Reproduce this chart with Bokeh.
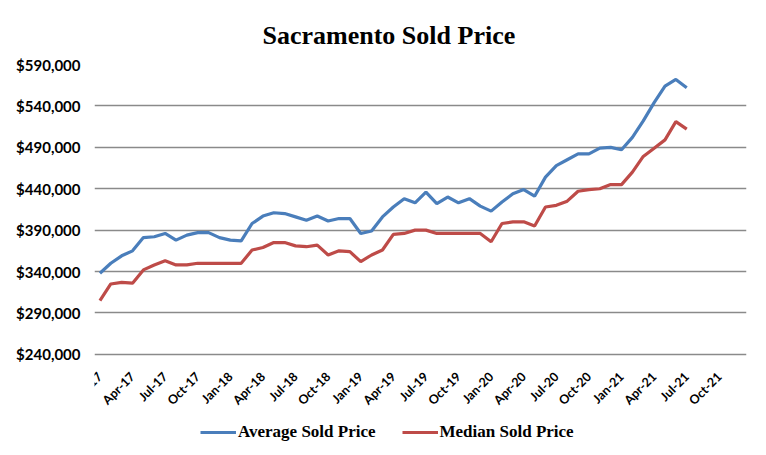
from bokeh.plotting import figure
from bokeh.models import ColumnDataSource, FixedTicker, Legend, LegendItem, Range1d, NumeralTickFormatter
from bokeh.core.properties import value
from bokeh.embed import file_html
from bokeh.resources import INLINE
import math

months = ["Jan", "Feb", "Mar", "Apr", "May", "Jun", "Jul", "Aug", "Sep", "Oct", "Nov", "Dec"]
categories = [f"{m}-{y}" for y in range(17, 22) for m in months]  # Jan-17 .. Dec-21

average_price = [338000, 350000, 359000, 365000, 381000, 382000, 386000, 378000, 384000, 387000,
                 387000, 381000, 378000, 377000, 398000, 407000, 411000, 410000, 406000, 402000,
                 407000, 401000, 404000, 404000, 386000, 389000, 406000, 418000, 428000, 423000,
                 436000, 422000, 430000, 423000, 428000, 419000, 413000, 424000, 434000, 439000,
                 431000, 454000, 468000, 475000, 482000, 482000, 489000, 490000, 487000, 502000,
                 522000, 544000, 564000, 572000, 562000]

median_price = [305000, 325000, 327000, 326000, 342000, 348000, 353000, 348000, 348000, 350000,
                350000, 350000, 350000, 350000, 366000, 369000, 375000, 375000, 371000, 370000,
                372000, 360000, 365000, 364000, 352000, 360000, 366000, 385000, 386000, 390000,
                390000, 386000, 386000, 386000, 386000, 386000, 376000, 398000, 400000, 400000,
                395000, 418000, 420000, 425000, 437000, 439000, 440000, 445000, 445000, 460000,
                479000, 489000, 499000, 521000, 512000]

tick_months = ["Jan", "Apr", "Jul", "Oct"]
y_ticks = [240000, 290000, 340000, 390000, 440000, 490000, 540000, 590000]

idx = list(range(len(average_price)))
src = ColumnDataSource(dict(x=idx, avg=average_price, med=median_price,
                            label=categories[:len(average_price)]))

tick_positions = [i for i, c in enumerate(categories) if c.split("-")[0] in tick_months]
tick_labels = [categories[i] for i in tick_positions]
tick_src = ColumnDataSource(dict(x=tick_positions, y=[y_ticks[0]] * len(tick_positions),
                                 text=tick_labels))

# frame extends below the lowest gridline so that the category labels and legend sit inside it
p = figure(frame_width=652, frame_height=381, output_backend="svg", toolbar_location=None,
           x_range=Range1d(-0.5, len(categories) - 0.5),
           y_range=Range1d(130000, 590000),
           x_axis_location=None,
           min_border_left=94, min_border_right=20, min_border_top=64, min_border_bottom=10)

p.title.text = "Sacramento Sold Price"
p.title.text_font = "Liberation Serif"
p.title.text_font_style = "bold"
p.title.text_font_size = "26px"
p.title.align = "left"
p.title.offset = 168
p.title.text_color = "#000000"
p.title.standoff = 30

p.outline_line_color = None
p.background_fill_color = "white"
p.border_fill_color = "white"
p.xgrid.visible = False

# y axis
p.yaxis.ticker = FixedTicker(ticks=y_ticks)
p.yaxis.formatter = NumeralTickFormatter(format="$0,0")
p.yaxis.major_label_text_font = "Lato"
p.yaxis.major_label_text_font_style = "bold"
p.yaxis.major_label_text_font_size = "15px"
p.yaxis.major_label_text_color = "#000000"
p.yaxis.axis_line_color = None
p.yaxis.major_tick_line_color = None
p.yaxis.minor_tick_line_color = None
p.yaxis.major_tick_out = 0
p.yaxis.major_label_standoff = 14
p.ygrid.grid_line_color = "#8a8a8a"
p.ygrid.grid_line_width = 1.5

# category (date) labels, slanted, under the lowest gridline
p.text(x="x", y="y", text="text", source=tick_src, angle=math.pi / 4,
       text_align="right", text_baseline="middle", y_offset=20, x_offset=0,
       text_font=value("Lato"), text_font_style="bold", text_font_size="12.5px",
       text_color="#000000")

r_avg = p.line("x", "avg", source=src, line_color="#4A7EBB", line_width=3.2)
r_med = p.line("x", "med", source=src, line_color="#BE4B48", line_width=3.2)

legend = Legend(items=[LegendItem(label="Average Sold Price", renderers=[r_avg]),
                       LegendItem(label="Median Sold Price", renderers=[r_med])],
                orientation="horizontal", location=(106, 3),
                label_text_font="Liberation Serif", label_text_font_style="bold",
                label_text_font_size="17px", label_text_color="#000000",
                glyph_width=36, glyph_height=16, label_standoff=2, spacing=26,
                padding=0, margin=0, border_line_color=None, background_fill_alpha=0)
p.add_layout(legend, "center")

open("out.html", "w").write(file_html(p, INLINE))
